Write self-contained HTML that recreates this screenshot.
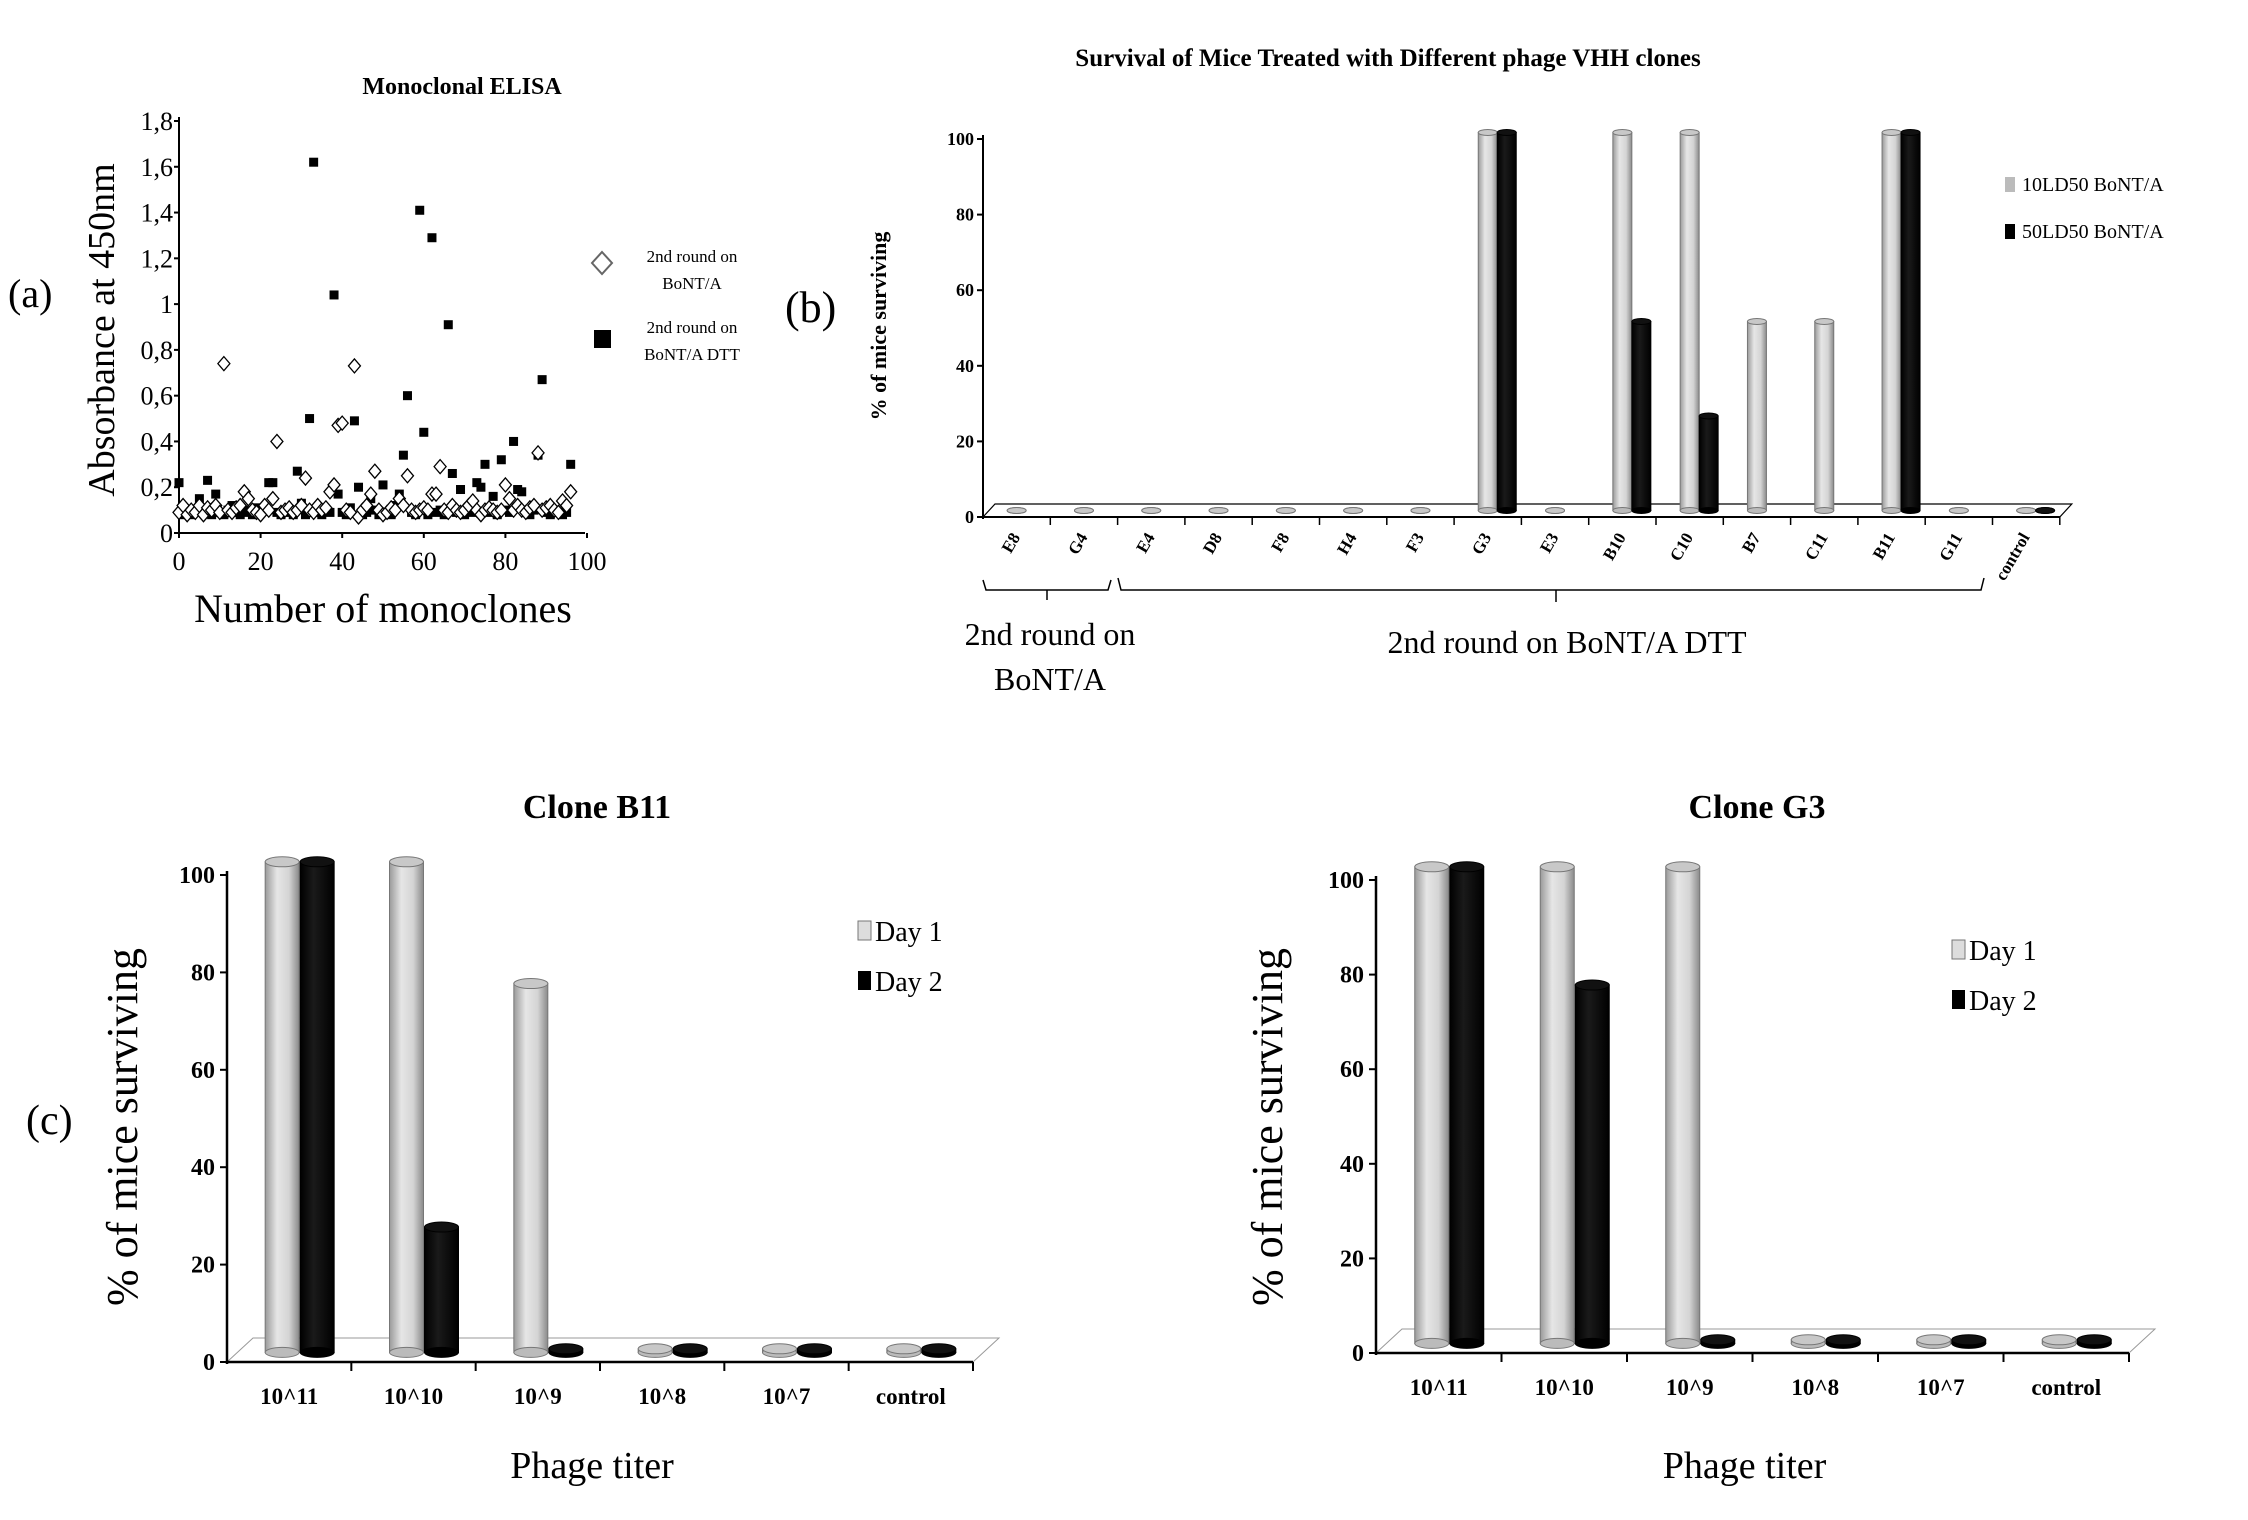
<!DOCTYPE html>
<html><head><meta charset="utf-8"><style>
html,body{margin:0;padding:0;background:#fff;}
svg{display:block;font-family:"Liberation Serif",serif;}
</style></head><body>
<svg id="fig" width="2248" height="1520" viewBox="0 0 2248 1520" xmlns="http://www.w3.org/2000/svg">
<defs>
<linearGradient id="gGray" x1="0" x2="1" y1="0" y2="0">
<stop offset="0" stop-color="#9a9a9a"/><stop offset="0.35" stop-color="#e6e6e6"/><stop offset="0.7" stop-color="#d4d4d4"/><stop offset="1" stop-color="#8a8a8a"/></linearGradient>
<linearGradient id="gBlack" x1="0" x2="1" y1="0" y2="0">
<stop offset="0" stop-color="#000"/><stop offset="0.4" stop-color="#1a1a1a"/><stop offset="1" stop-color="#000"/></linearGradient>
</defs>
<g id="pa"></g>
<g id="pb"></g>
<g id="pc"></g>
<g id="pd"></g>
</svg>
<script>
// ---------- Panel (a) data ----------
const elisaBont = [0.09,0.12,0.08,0.1,0.09,0.12,0.08,0.11,0.1,0.12,0.09,0.74,0.1,0.09,0.11,0.12,0.18,0.15,0.1,0.09,0.08,0.12,0.1,0.15,0.4,0.09,0.1,0.11,0.09,0.1,0.12,0.24,0.1,0.09,0.12,0.1,0.11,0.18,0.21,0.47,0.48,0.1,0.09,0.73,0.07,0.1,0.12,0.17,0.27,0.1,0.08,0.09,0.11,0.1,0.15,0.12,0.25,0.1,0.09,0.1,0.11,0.1,0.17,0.17,0.29,0.1,0.09,0.12,0.1,0.09,0.1,0.12,0.14,0.1,0.08,0.1,0.11,0.1,0.09,0.1,0.21,0.15,0.1,0.12,0.1,0.09,0.11,0.12,0.35,0.1,0.11,0.12,0.1,0.09,0.14,0.12,0.18];
const elisaDtt = [0.22,0.08,0.09,0.08,0.1,0.15,0.09,0.23,0.08,0.17,0.09,0.08,0.1,0.12,0.09,0.08,0.1,0.09,0.08,0.11,0.09,0.1,0.22,0.22,0.09,0.08,0.1,0.09,0.08,0.27,0.13,0.08,0.5,1.62,0.09,0.08,0.1,0.09,1.04,0.17,0.09,0.08,0.11,0.49,0.2,0.08,0.09,0.15,0.1,0.08,0.21,0.09,0.08,0.12,0.17,0.34,0.6,0.09,0.08,1.41,0.44,0.08,1.29,0.09,0.1,0.08,0.91,0.26,0.09,0.19,0.08,0.1,0.09,0.22,0.2,0.3,0.09,0.16,0.08,0.32,0.1,0.09,0.4,0.19,0.18,0.09,0.08,0.1,0.34,0.67,0.09,0.08,0.1,0.09,0.08,0.09,0.3];
const elisaYTicks = ["0","0,2","0,4","0,6","0,8","1","1,2","1,4","1,6","1,8"];
const elisaXTicks = [0,20,40,60,80,100];
// ---------- Panel (b) data ----------
const clones = ["E8","G4","E4","D8","F8","H4","F3","G3","E3","B10","C10","B7","C11","B11","G11","control"];
const ld10 = [0,0,0,0,0,0,0,100,0,100,100,50,50,100,0,0];
const ld50 = [0,0,0,0,0,0,0,100,0,50,25,0,0,100,0,0];
const survTicks = [0,20,40,60,80,100];
// ---------- Panels (c),(d) data ----------
const titers = ["10^11","10^10","10^9","10^8","10^7","control"];
const b11Day1 = [100,100,75,0,0,0];
const b11Day2 = [100,25,0,0,0,0];
const g3Day1 = [100,100,100,0,0,0];
const g3Day2 = [100,75,0,0,0,0];

const NS="http://www.w3.org/2000/svg";
function mk(parent,tag,attrs,text){const e=document.createElementNS(NS,tag);for(const k in attrs)e.setAttribute(k,attrs[k]);if(text!==undefined)e.textContent=text;parent.appendChild(e);return e;}

// ---------- Panel (a) ----------
(function(){
 const g=document.getElementById('pa');
 const x0=179,x1=587,y0=533,y1=121;
 const xs=v=>x0+(v/100)*(x1-x0), ys=v=>y0-(v/1.8)*(y0-y1);
 let t=mk(g,'text',{x:462,y:94,'text-anchor':'middle','font-size':24,'font-weight':'bold'},'Monoclonal ELISA');
 
 let l=mk(g,'line',{x1:x0,y1:y1-4,x2:x0,y2:y0,stroke:'#000','stroke-width':2});
 
 l=mk(g,'line',{x1:x0,y1:y0,x2:585,y2:y0,stroke:'#000','stroke-width':2});
 
 elisaYTicks.forEach((lab,i)=>{const v=i*0.2,y=ys(v);
  mk(g,'line',{x1:x0-5,y1:y,x2:x0,y2:y,stroke:'#000','stroke-width':2});
  const e=mk(g,'text',{x:x0-6,y:y+9,'text-anchor':'end','font-size':26},lab);
  });
 elisaXTicks.forEach(v=>{const x=xs(v);
  mk(g,'line',{x1:x,y1:y0,x2:x,y2:y0+5,stroke:'#000','stroke-width':2});
  const e=mk(g,'text',{x:x,y:570,'text-anchor':'middle','font-size':26},String(v));
  });
 t=mk(g,'text',{x:383,y:622,'text-anchor':'middle','font-size':40},'Number of monoclones');
 
 t=mk(g,'text',{x:0,y:0,'text-anchor':'middle','font-size':38,transform:'translate(114,330) rotate(-90)'},'Absorbance at 450nm');
 
 t=mk(g,'text',{x:8,y:307,'font-size':40},'(a)');
 
 elisaDtt.forEach((v,i)=>{const x=xs(i),y=ys(v);
  const r=mk(g,'rect',{x:x-4.5,y:y-4.5,width:9,height:9,fill:'#000'});
  });
 elisaBont.forEach((v,i)=>{const x=xs(i),y=ys(v);
  const p=mk(g,'polygon',{points:`${x},${y-7} ${x+6},${y} ${x},${y+7} ${x-6},${y}`,fill:'#fff',stroke:'#000','stroke-width':1.3});
  });
 let p=mk(g,'polygon',{points:'602,252 612,263 602,274 592,263',fill:'#fff',stroke:'#666','stroke-width':2});
 
 t=mk(g,'text',{x:692,y:262,'text-anchor':'middle','font-size':17},'2nd round on');
 mk(g,'text',{x:692,y:289,'text-anchor':'middle','font-size':17},'BoNT/A');
 p=mk(g,'rect',{x:594,y:330,width:17,height:18,fill:'#000'});
 
 t=mk(g,'text',{x:692,y:333,'text-anchor':'middle','font-size':17},'2nd round on');
 mk(g,'text',{x:692,y:360,'text-anchor':'middle','font-size':17},'BoNT/A DTT');
})();

function cyl(g,cx,w,ytop,ybot,fill,name,er){
 const grp=mk(g,'g',{});
 
 if(ybot-ytop>1) mk(grp,'rect',{x:cx-w/2,y:ytop,width:w,height:ybot-ytop,fill:fill==='gray'?'url(#gGray)':'url(#gBlack)',stroke:fill==='gray'?'#777':'#000','stroke-width':1});
 mk(grp,'ellipse',{cx:cx,cy:ybot,rx:w/2,ry:er,fill:fill==='gray'?'#bbb':'#000',stroke:fill==='gray'?'#777':'#000','stroke-width':1});
 mk(grp,'ellipse',{cx:cx,cy:ytop,rx:w/2,ry:er,fill:fill==='gray'?'#c8c8c8':'#111',stroke:fill==='gray'?'#777':'#000','stroke-width':1});
}

// ---------- Panel (b) ----------
(function(){
 const g=document.getElementById('pb');
 const x0=983,y0=517,y100=139,dx=12,dy=13;
 const step=67.3;
 const xEnd=x0+clones.length*step;
 const ys=v=>y0-(v/100)*(y0-y100);
 let t=mk(g,'text',{x:1388,y:66,'text-anchor':'middle','font-size':25,'font-weight':'bold'},'Survival of Mice Treated with Different phage VHH clones');
 
 let f=mk(g,'polygon',{points:`${x0},${y0} ${x0+dx},${y0-dy} ${xEnd+dx},${y0-dy} ${xEnd},${y0}`,fill:'#fff',stroke:'#000','stroke-width':1.2});
 
 let l=mk(g,'line',{x1:x0,y1:y100-4,x2:x0,y2:y0+2,stroke:'#000','stroke-width':2});
 
 survTicks.forEach(v=>{const y=ys(v);
  mk(g,'line',{x1:x0-6,y1:y,x2:x0,y2:y,stroke:'#000','stroke-width':2});
  const e=mk(g,'text',{x:x0-9,y:y+6,'text-anchor':'end','font-size':18,'font-weight':'bold'},String(v));
  });
 clones.forEach((c,i)=>{
  const cc=x0+step/2+i*step;
  mk(g,'line',{x1:x0+(i+1)*step,y1:y0,x2:x0+(i+1)*step,y2:y0+8,stroke:'#000','stroke-width':1.5});
  const bw=19;
  const ya=ys(ld10[i])-dy/2, yb=ys(ld50[i])-dy/2;
  cyl(g,cc,bw,ya,y0-dy/2,'gray','bar-10ld50-'+c,3);
  if(ld50[i]>0||c==='control') cyl(g,cc+19,bw,yb,y0-dy/2,'black','bar-50ld50-'+c,3);
  const e=mk(g,'text',{x:0,y:0,'text-anchor':'end','font-size':17,'font-weight':'bold',transform:`translate(${cc+4},${y0+20}) rotate(-60)`},c);
  
 });
 mk(g,'line',{x1:x0,y1:y0,x2:xEnd,y2:y0,stroke:'#000','stroke-width':2});
 t=mk(g,'text',{x:0,y:0,'text-anchor':'middle','font-size':22,'font-weight':'bold',transform:'translate(886,326) rotate(-90)'},'% of mice surviving');
 
 t=mk(g,'text',{x:785,y:322,'font-size':44},'(b)');
 
 let r=mk(g,'rect',{x:2005,y:177,width:10,height:15,fill:'#bbb'});
 t=mk(g,'text',{x:2022,y:191,'font-size':20},'10LD50 BoNT/A');
 r=mk(g,'rect',{x:2005,y:224,width:10,height:15,fill:'#000'});
 t=mk(g,'text',{x:2022,y:238,'font-size':20},'50LD50 BoNT/A');
 let b=mk(g,'path',{d:'M983,580 L986,590 L1108,590 L1111,580 M1047,590 L1047,600',fill:'none',stroke:'#000','stroke-width':1.5});
 
 b=mk(g,'path',{d:'M1118,578 L1121,590 L1981,590 L1984,578 M1556,590 L1556,602',fill:'none',stroke:'#000','stroke-width':1.5});
 
 t=mk(g,'text',{x:1050,y:645,'text-anchor':'middle','font-size':32},'2nd round on');
 mk(g,'text',{x:1050,y:690,'text-anchor':'middle','font-size':32},'BoNT/A');
 t=mk(g,'text',{x:1567,y:653,'text-anchor':'middle','font-size':32},'2nd round on BoNT/A DTT');
})();

// ---------- Panels (c),(d) ----------
function titerPanel(id,o,d1,d2){
 const g=document.getElementById(id);
 const {x0,x1,y0,y100,title,tx,leg,ytx,label}=o;
 const dx=26,dy=24;
 const step=(x1-x0)/titers.length;
 const ys=v=>y0-(v/100)*(y0-y100);
 let t=mk(g,'text',{x:tx,y:818,'text-anchor':'middle','font-size':34,'font-weight':'bold'},title);
 
 let f=mk(g,'polygon',{points:`${x0},${y0} ${x0+dx},${y0-dy} ${x1+dx},${y0-dy} ${x1},${y0}`,fill:'#fff',stroke:'#999','stroke-width':1});
 
 let l=mk(g,'line',{x1:x0,y1:y100-4,x2:x0,y2:y0+2,stroke:'#000','stroke-width':2.5});
 
 survTicks.forEach(v=>{const y=ys(v);
  mk(g,'line',{x1:x0-7,y1:y,x2:x0,y2:y,stroke:'#000','stroke-width':2});
  const e=mk(g,'text',{x:x0-12,y:y+8,'text-anchor':'end','font-size':24,'font-weight':'bold'},String(v));
  });
 titers.forEach((c,i)=>{
  const xl=x0+i*step, cx=xl+step/2;
  mk(g,'line',{x1:xl+step,y1:y0,x2:xl+step,y2:y0+9,stroke:'#000','stroke-width':2});
  const bw=34, base=y0-dy*0.4;
  cyl(g,cx-7,bw,ys(d1[i])-dy*0.55,base,'gray','bar-day1-'+c,5);
  cyl(g,cx+28,bw,ys(d2[i])-dy*0.55,base,'black','bar-day2-'+c,5);
  const e=mk(g,'text',{x:cx,y:y0+42,'text-anchor':'middle','font-size':23,'font-weight':'bold'},c);
  
 });
 mk(g,'line',{x1:x0,y1:y0,x2:x1,y2:y0,stroke:'#000','stroke-width':2.5});
 t=mk(g,'text',{x:(x0+x1)/2-8,y:1478,'text-anchor':'middle','font-size':38},'Phage titer');
 
 t=mk(g,'text',{x:0,y:0,'text-anchor':'middle','font-size':44,transform:`translate(${ytx},1127) rotate(-90)`},'% of mice surviving');
 
 if(label){t=mk(g,'text',{x:26,y:1134,'font-size':42},label);}
 let r=mk(g,'rect',{x:leg[0],y:leg[1]-10,width:13,height:19,fill:'#ddd',stroke:'#777'});
 t=mk(g,'text',{x:leg[0]+17,y:leg[1]+10,'font-size':28},'Day 1');
 r=mk(g,'rect',{x:leg[0],y:leg[1]+40,width:13,height:19,fill:'#000'});
 t=mk(g,'text',{x:leg[0]+17,y:leg[1]+60,'font-size':28},'Day 2');
}
titerPanel('pc',{x0:227,x1:973,y0:1362,y100:875,title:'Clone B11',tx:597,leg:[858,931],ytx:137,label:'(c)'},b11Day1,b11Day2);
titerPanel('pd',{x0:1376,x1:2129,y0:1353,y100:880,title:'Clone G3',tx:1757,leg:[1952,950],ytx:1282,label:null},g3Day1,g3Day2);
</script>
</body></html>
